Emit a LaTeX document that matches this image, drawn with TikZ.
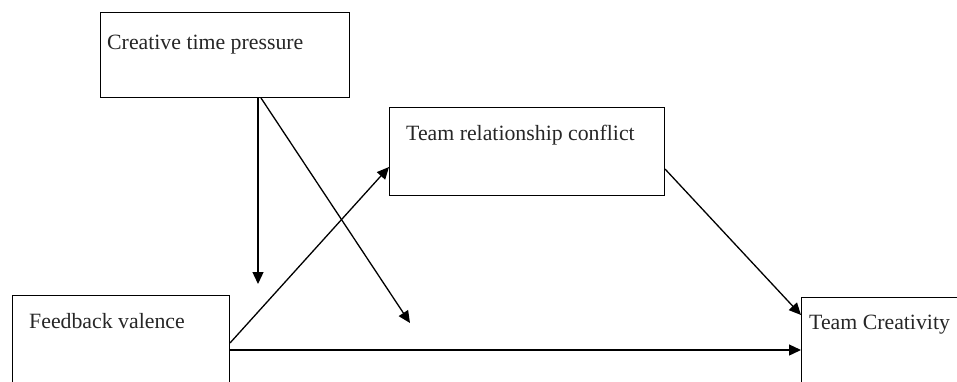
\documentclass[tikz,border=0pt]{standalone}
\usepackage{fontspec}
\setmainfont{Liberation Serif}
\usetikzlibrary{arrows.meta}
\begin{document}
\begin{tikzpicture}[x=1pt,y=-1pt,
  box/.style={draw=black,line width=1pt,rectangle,anchor=north west,inner sep=0pt},
  lbl/.style={anchor=base west,inner sep=0pt,font=\fontsize{21.8}{24}\selectfont,text=black!85},
  arr/.style={line width=1.3pt,-{Triangle[length=12pt,width=11pt]}}]
\useasboundingbox (0,0) rectangle (957,381);
\clip (0,0) rectangle (957,381);
\node[box,minimum width=249pt,minimum height=85pt] (ctp) at (100,12) {};
\node[box,minimum width=275pt,minimum height=88pt] (trc) at (389,107) {};
\node[box,minimum width=217pt,minimum height=120pt] (fv) at (12,295) {};
\node[box,minimum width=200pt,minimum height=120pt] (tc) at (801,297) {};
\node[lbl] (t1) at (107,49) {Creative time pressure};
\node[lbl] (t2) at (406,140) {Team relationship conflict};
\node[lbl] (t3) at (29,328) {Feedback valence};
\node[lbl] (t4) at (809,329) {Team Creativity};
\coordinate (m1) at (258,284);
\coordinate (m2) at (410,323);
\draw[arr] (ctp.south west -| m1) -- (m1);
\draw[arr] ([xshift=161pt]ctp.south west) -- (m2);
\draw[arr] ([yshift=-48pt]fv.north east) -- ([yshift=-60pt]trc.north west);
\draw[arr] ([yshift=-62pt]trc.north east) -- ([yshift=-18pt]tc.north west);
\draw[arr] ([yshift=-55pt]fv.north east) -- ([yshift=-55pt]fv.north east -| tc.west);
\end{tikzpicture}
\end{document}
